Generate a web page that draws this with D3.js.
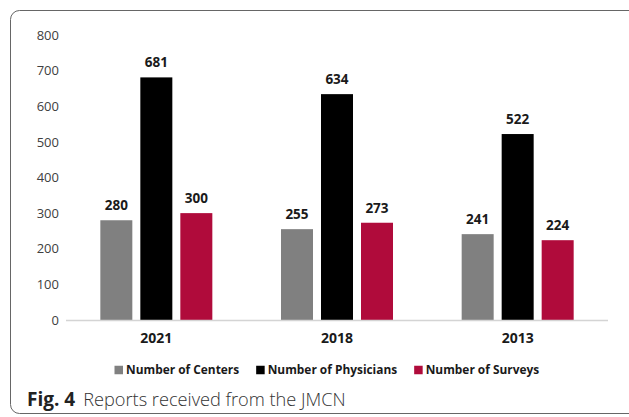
<!DOCTYPE html>
<html>
<head>
<meta charset="utf-8">
<script src="https://cdn.jsdelivr.net/npm/d3@7"></script>
<style>
  html, body { margin: 0; padding: 0; background: #fff; }
  svg { display: block; }
</style>
</head>
<body>
<svg id="chart" width="629" height="417"></svg>
<script>
// Reports received per survey year
const years = ["2021", "2018", "2013"];
const seriesNames = ["Number of Centers", "Number of Physicians", "Number of Surveys"];
const centers = [280, 255, 241];
const physicians = [681, 634, 522];
const surveys = [300, 273, 224];
const yTicks = [0, 100, 200, 300, 400, 500, 600, 700, 800];
const seriesColors = ["#808080", "#000000", "#b00b3b"];

const seriesValues = [centers, physicians, surveys];

const svg = d3.select("#chart");

// Rounded figure frame (right edge runs past the page)
svg.append("rect")
  .attr("x", 10.5).attr("y", 10.5)
  .attr("width", 640).attr("height", 403)
  .attr("rx", 9).attr("ry", 9)
  .attr("fill", "none")
  .attr("stroke", "#666")
  .attr("stroke-width", 1);

const plotLeft = 66, plotRight = 608;
const y = d3.scaleLinear().domain([0, 800]).range([320, 35]);
const x0 = d3.scaleBand().domain(years).range([plotLeft, plotRight]).padding(0);
const groupHalf = 56;
const x1 = d3.scaleBand().domain(seriesNames)
  .range([x0.bandwidth() / 2 - groupHalf, x0.bandwidth() / 2 + groupHalf])
  .paddingInner(0.2).paddingOuter(0);

// Y axis labels
const yAxis = d3.axisLeft(y).tickValues(yTicks).tickSize(0).tickPadding(7);
const gy = svg.append("g").attr("transform", `translate(${plotLeft},0)`).call(yAxis);
gy.select(".domain").remove();
gy.selectAll("text")
  .attr("font-family", "'Open Sans', sans-serif")
  .attr("font-size", 13)
  .attr("fill", "#404040");

// Bars and value labels
const groups = svg.append("g").selectAll("g")
  .data(years)
  .join("g")
  .attr("transform", d => `translate(${x0(d)},0)`);

groups.each(function(year, i) {
  const g = d3.select(this);
  seriesNames.forEach((name, s) => {
    const v = seriesValues[s][i];
    g.append("rect")
      .attr("x", x1(name))
      .attr("y", y(v))
      .attr("width", x1.bandwidth())
      .attr("height", y(0) - y(v))
      .attr("fill", seriesColors[s]);
    g.append("text")
      .attr("x", x1(name) + x1.bandwidth() / 2)
      .attr("y", y(v) - 10)
      .attr("text-anchor", "middle")
      .attr("font-family", "'Open Sans', sans-serif")
      .attr("font-weight", "bold")
      .attr("font-size", 13.5)
      .attr("fill", "#1a1a1a")
      .text(v);
  });
});

// Baseline
svg.append("line")
  .attr("x1", plotLeft).attr("x2", plotRight)
  .attr("y1", y(0) + 0.5).attr("y2", y(0) + 0.5)
  .attr("stroke", "#d4d4d4").attr("stroke-width", 1.5);

// Category axis
const xAxis = d3.axisBottom(x0).tickSize(0).tickPadding(13);
const gx = svg.append("g").attr("transform", `translate(0,${y(0)})`).call(xAxis);
gx.select(".domain").remove();
gx.selectAll("text")
  .attr("font-family", "'Open Sans', sans-serif")
  .attr("font-weight", "bold")
  .attr("font-size", 14)
  .attr("fill", "#1a1a1a");

// Legend
const legend = svg.append("g");
const sq = 8.5, legendY = 370;
let cx = 114.5;
seriesNames.forEach((name, s) => {
  legend.append("rect")
    .attr("x", cx).attr("y", legendY - sq / 2)
    .attr("width", sq).attr("height", sq)
    .attr("fill", seriesColors[s]);
  const t = legend.append("text")
    .attr("x", cx + sq + 3)
    .attr("y", legendY)
    .attr("dy", "0.35em")
    .attr("font-family", "'Open Sans', sans-serif")
    .attr("font-weight", "bold")
    .attr("font-size", 11.9)
    .attr("fill", "#1a1a1a")
    .text(name);
  cx += sq + 3 + t.node().getComputedTextLength() + 17;
});

// Caption
const cap = svg.append("text")
  .attr("x", 27).attr("y", 406)
  .attr("font-family", "'Open Sans', sans-serif")
  .attr("fill", "#222");
cap.append("tspan").attr("font-weight", "bold").attr("font-size", 19).text("Fig. 4");
cap.append("tspan").attr("dx", 8).attr("font-size", 18.2).attr("font-weight", 300)
  .attr("fill", "#333").text("Reports received from the JMCN");
</script>
</body>
</html>
